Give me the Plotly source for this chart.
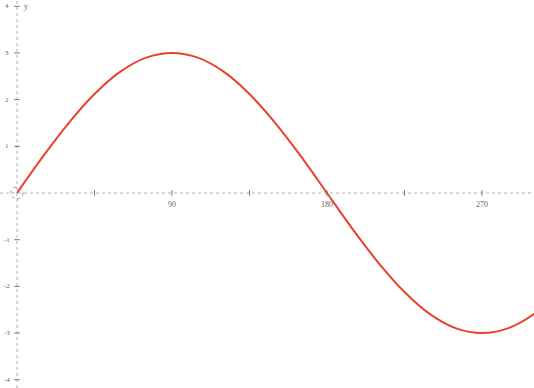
import plotly.graph_objects as go

# Curve values (degrees, y)
curve_x = [0, 15, 30, 45, 60, 75, 90, 105, 120, 135, 150, 165, 180, 195, 210,
           225, 240, 255, 270, 285, 300, 315]
curve_y = [0, 0.78, 1.5, 2.12, 2.6, 2.9, 3.0, 2.9, 2.6, 2.12, 1.5, 0.78, 0,
           -0.78, -1.5, -2.12, -2.6, -2.9, -3.0, -2.9, -2.6, -2.12]

x_minor_ticks = [45, 90, 135, 180, 225, 270]
x_label_vals = [90, 180, 270]
x_label_text = ["90", "180", "270"]
y_tick_vals = [4, 3, 2, 1, -1, -2, -3, -4]
y_tick_text = ["4", "3", "2", "1", "-1", "-2", "-3", "-4"]

AXIS = "#b0b0b0"
TXT = "#666666"

fig = go.Figure()

fig.add_trace(go.Scatter(
    x=curve_x, y=curve_y, mode="lines",
    line=dict(color="#e8432a", width=2, shape="spline", smoothing=1.0),
    hoverinfo="skip", showlegend=False))

# x tick marks on the y=0 axis
fig.add_trace(go.Scatter(
    x=x_minor_ticks, y=[0] * len(x_minor_ticks), mode="markers",
    marker=dict(symbol="line-ns", size=4, line=dict(color="#777777", width=1)),
    hoverinfo="skip", showlegend=False))
# y tick marks on the x=0 axis
fig.add_trace(go.Scatter(
    x=[0] * len(y_tick_vals), y=y_tick_vals, mode="markers",
    marker=dict(symbol="line-ew", size=4, line=dict(color="#777777", width=1)),
    hoverinfo="skip", showlegend=False))

annotations = []
for v, t in zip(x_label_vals, x_label_text):
    annotations.append(dict(x=v, y=0, text=t, showarrow=False, yshift=-11,
                            font=dict(family="Liberation Serif", size=8, color=TXT)))
for v, t in zip(y_tick_vals, y_tick_text):
    annotations.append(dict(x=0, y=v, text=t, showarrow=False, xshift=-10,
                            font=dict(family="Liberation Serif", size=7, color=TXT)))
annotations.append(dict(x=0, y=4, text="y", showarrow=False, xshift=9,
                        font=dict(family="Liberation Serif", size=8, color=TXT)))

shapes = [
    dict(type="line", xref="paper", x0=0, x1=1, yref="y", y0=0, y1=0,
         line=dict(color=AXIS, width=1, dash="dot"), layer="below"),
    dict(type="line", yref="paper", y0=0, y1=1, xref="x", x0=0, x1=0,
         line=dict(color=AXIS, width=1, dash="dot"), layer="below"),
    dict(type="circle", xref="x", yref="y", xsizemode="pixel", ysizemode="pixel",
         xanchor=0, yanchor=0, x0=-6, x1=6, y0=-6, y1=6,
         line=dict(color="#909090", width=1, dash="dot")),
]

fig.update_layout(
    width=534, height=388,
    margin=dict(l=0, r=0, t=0, b=0),
    paper_bgcolor="white", plot_bgcolor="white",
    xaxis=dict(range=[-9.87, 300.2], visible=False, fixedrange=True),
    yaxis=dict(range=[-4.178, 4.136], visible=False, fixedrange=True),
    annotations=annotations, shapes=shapes, showlegend=False,
)

fig.write_html("out.html", config={"displayModeBar": False},
               post_script="document.body.style.margin='0px';"
                           "document.body.style.overflow='hidden';")
